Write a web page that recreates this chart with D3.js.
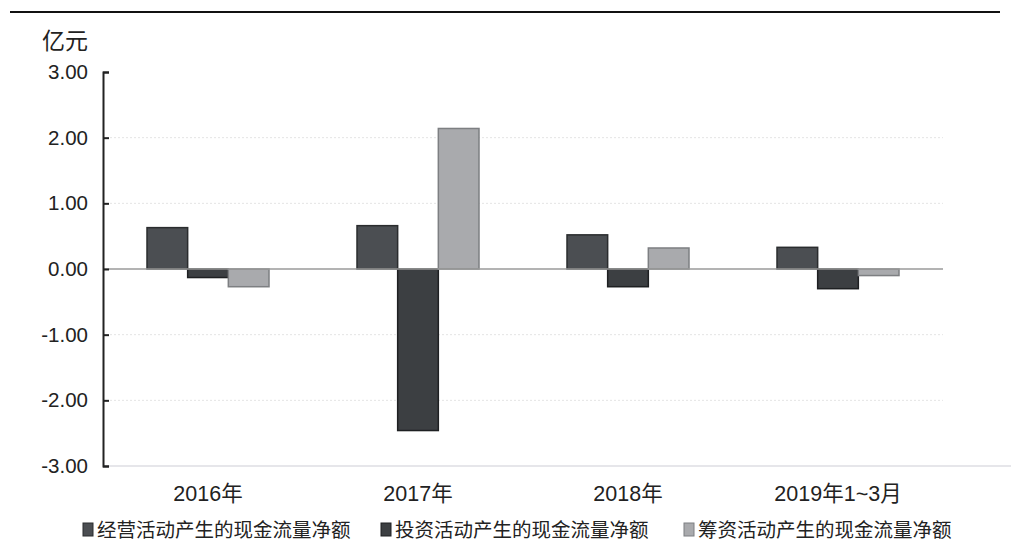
<!DOCTYPE html>
<html>
<head>
<meta charset="utf-8">
<script src="https://cdn.jsdelivr.net/npm/d3@7"></script>
<style>
  body { margin: 0; background: #fff; }
  svg { font-family: "Liberation Sans", Arial, "Noto Sans CJK SC", sans-serif; }
  .axis path, .axis line { stroke: #222; stroke-width: 2; }
  .axis text { font-size: 20.5px; fill: #222; }
</style>
</head>
<body>
<svg id="main"></svg>
<script>
var categories = ["2016年", "2017年", "2018年", "2019年1~3月"];
var seriesNames = ["经营活动产生的现金流量净额", "投资活动产生的现金流量净额", "筹资活动产生的现金流量净额"];
var operating = [0.63, 0.66, 0.52, 0.33];
var investing = [-0.13, -2.46, -0.27, -0.3];
var financing = [-0.27, 2.14, 0.32, -0.1];
var yTicks = [3, 2, 1, 0, -1, -2, -3];

var w = 1011;
var h = 544;
var colors = ["#4b4e52", "#3c3f42", "#a9aaad"];
var strokes = ["#2a2c2e", "#1e2022", "#7d7f82"];

var svg = d3.select("#main")
  .attr("width", w)
  .attr("height", h);

// scanned page rule at the top
svg.append("line")
  .attr("x1", 10).attr("x2", 1000)
  .attr("y1", 12).attr("y2", 12)
  .attr("stroke", "#111").attr("stroke-width", 2);

var xScale = d3.scaleBand()
  .domain(categories)
  .range([103, 943]);

var inner = d3.scaleBand()
  .domain([0, 1, 2])
  .range([0, 122]);

var yScale = d3.scaleLinear()
  .domain([-3, 3])
  .range([466, 72]);

// faint gridlines
svg.selectAll("line.grid")
  .data(yTicks.filter(function(d) { return d !== 0 && d !== -3 && d !== 3; }))
  .enter()
  .append("line")
  .attr("class", "grid")
  .attr("x1", 110).attr("x2", 943)
  .attr("y1", function(d) { return yScale(d); })
  .attr("y2", function(d) { return yScale(d); })
  .attr("stroke", "#e4e4e4")
  .attr("stroke-dasharray", "2,2");

// bottom faint line
svg.append("line")
  .attr("x1", 103).attr("x2", 1011)
  .attr("y1", yScale(-3)).attr("y2", yScale(-3))
  .attr("stroke", "#e6e6ea").attr("stroke-width", 2);

var series = [operating, investing, financing];

series.forEach(function(vals, s) {
  svg.selectAll("rect.s" + s)
    .data(vals)
    .enter()
    .append("rect")
    .attr("class", "s" + s)
    .attr("x", function(d, i) {
      return xScale(categories[i]) + (xScale.bandwidth() - 122) / 2 + inner(s);
    })
    .attr("y", function(d) { return yScale(Math.max(0, d)); })
    .attr("width", inner.bandwidth())
    .attr("height", function(d) { return Math.abs(yScale(d) - yScale(0)); })
    .attr("fill", colors[s])
    .attr("stroke", strokes[s])
    .attr("stroke-width", 1.5);
});

// zero line
svg.append("line")
  .attr("x1", 103).attr("x2", 943)
  .attr("y1", yScale(0)).attr("y2", yScale(0))
  .attr("stroke", "#9a9a9a").attr("stroke-width", 1.5);

var yAxis = d3.axisLeft(yScale)
  .tickValues(yTicks)
  .tickFormat(function(d) { return d.toFixed(2); })
  .tickSizeInner(-6)
  .tickSizeOuter(-6)
  .tickPadding(15);

svg.append("g")
  .attr("class", "axis")
  .attr("transform", "translate(103,0)")
  .call(yAxis);

svg.append("text")
  .attr("x", 42).attr("y", 49)
  .attr("font-size", 23)
  .attr("fill", "#222")
  .text("亿元");

// category labels
svg.selectAll("text.cat")
  .data(categories)
  .enter()
  .append("text")
  .attr("class", "cat")
  .attr("x", function(d) { return xScale(d) + xScale.bandwidth() / 2; })
  .attr("y", 501)
  .attr("text-anchor", "middle")
  .attr("font-size", 21.5)
  .attr("fill", "#222")
  .text(function(d) { return d; });

// legend
var legendX = [83, 381, 684];
var legend = svg.selectAll("g.legend")
  .data(seriesNames)
  .enter()
  .append("g")
  .attr("class", "legend")
  .attr("transform", function(d, i) { return "translate(" + legendX[i] + ",530)"; });

legend.append("rect")
  .attr("x", 0).attr("y", -7)
  .attr("width", 10).attr("height", 13)
  .attr("fill", function(d, i) { return colors[i]; })
  .attr("stroke", function(d, i) { return strokes[i]; });

legend.append("text")
  .attr("x", 14).attr("y", 7)
  .attr("font-size", 19.5)
  .attr("fill", "#222")
  .text(function(d) { return d; });
</script>
</body>
</html>
